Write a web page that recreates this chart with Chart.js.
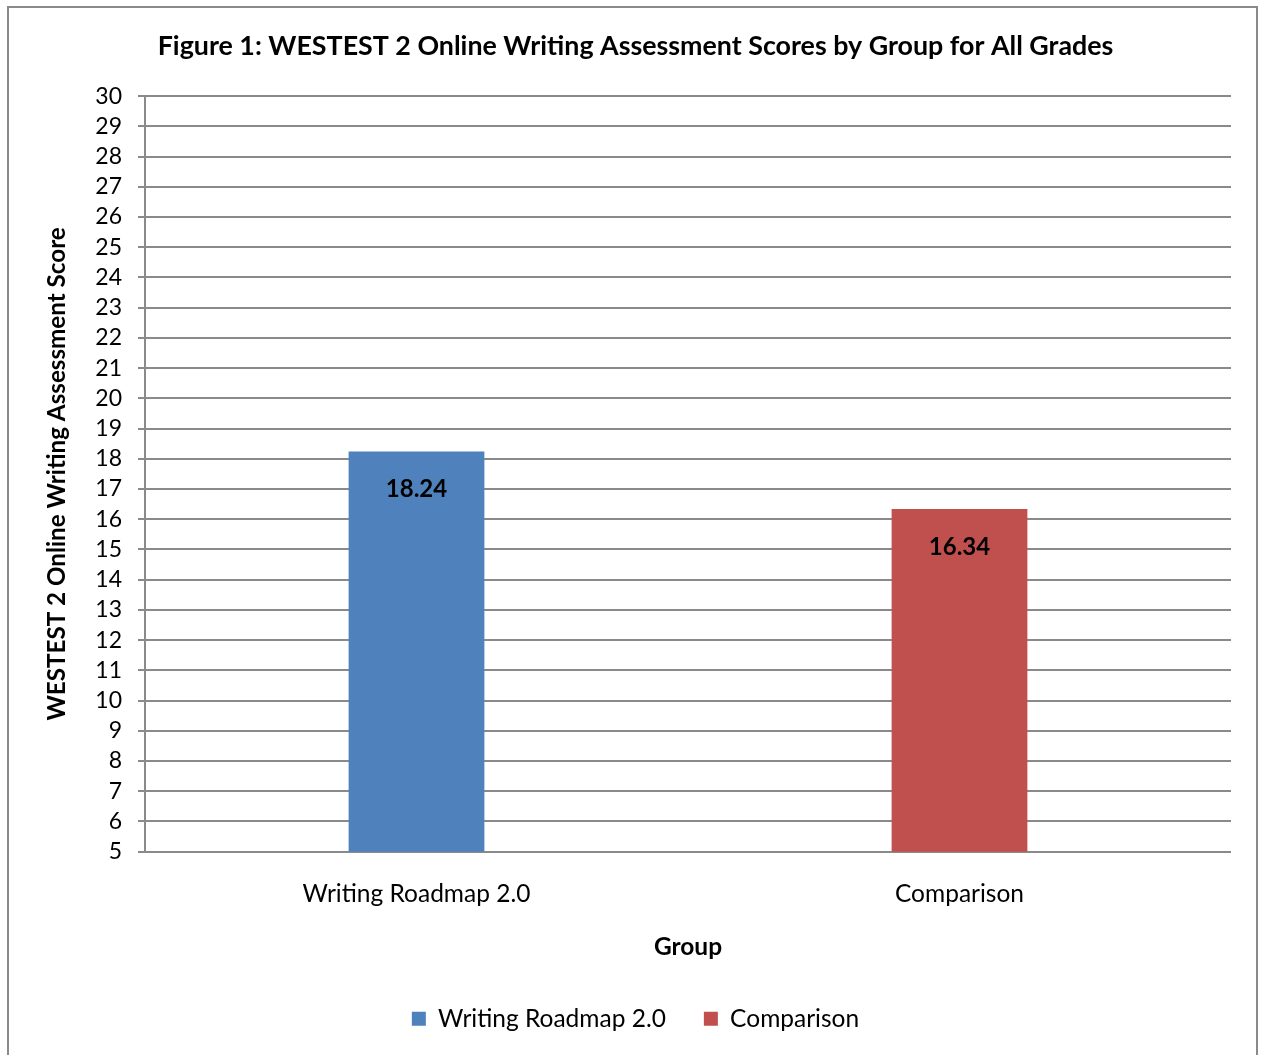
<!DOCTYPE html>
<html>
<head>
<meta charset="utf-8">
<script src="https://cdn.jsdelivr.net/npm/chart.js@4.4.1/dist/chart.umd.min.js"></script>
<style>
  html, body { margin: 0; padding: 0; background: #fff; }
  #wrap { position: absolute; left: 0; top: 0; width: 1262px; height: 1055px; }
  #frame { position: absolute; left: 7px; top: 6px; width: 1251px; height: 1070px; border: 2px solid #8a8a8a; box-sizing: border-box; pointer-events: none; }
</style>
</head>
<body>
<div id="wrap">
  <canvas id="c" width="1262" height="1055"></canvas>
  <div id="frame"></div>
</div>
<script>
const categories = ["Writing Roadmap 2.0", "Comparison"];
const seriesNames = ["Writing Roadmap 2.0", "Comparison"];
const roadmapValues = [18.24, null];
const comparisonValues = [null, 16.34];
const yMin = 5, yMax = 30, yStep = 1;
const titleText = "Figure 1: WESTEST 2 Online Writing Assessment Scores by Group for All Grades";
const yTitle = "WESTEST 2 Online Writing Assessment Score";
const xTitle = "Group";

const FONT = "Lato, 'Open Sans', sans-serif";
const GRID = "#8a8a8a";

const labelPlugin = {
  id: "valueLabels",
  afterDatasetsDraw(chart) {
    const ctx = chart.ctx;
    ctx.save();
    ctx.font = "bold 24px " + FONT;
    ctx.fillStyle = "#000";
    ctx.textAlign = "center";
    ctx.textBaseline = "middle";
    chart.data.datasets.forEach((ds, di) => {
      const meta = chart.getDatasetMeta(di);
      meta.data.forEach((el, i) => {
        const v = ds.data[i];
        if (v === null || v === undefined) return;
        ctx.fillText(v.toFixed(2), el.x, el.y + 38);
      });
    });
    ctx.restore();
  }
};

new Chart(document.getElementById("c"), {
  type: "bar",
  data: {
    labels: categories,
    datasets: [
      { label: seriesNames[0], data: roadmapValues, backgroundColor: "#4F81BD", borderWidth: 0 },
      { label: seriesNames[1], data: comparisonValues, backgroundColor: "#C0504D", borderWidth: 0 }
    ]
  },
  options: {
    responsive: false,
    animation: false,
    devicePixelRatio: 1,
    skipNull: true,
    barPercentage: 0.25,
    categoryPercentage: 1.0,
    layout: { padding: { left: 40, right: 31, top: 0, bottom: 14 } },
    plugins: {
      title: {
        display: true,
        text: titleText,
        color: "#000",
        font: { family: FONT, size: 26.8, weight: "bold" },
        padding: { top: 30, bottom: 34 }
      },
      legend: {
        position: "bottom",
        labels: {
          color: "#000",
          boxWidth: 14,
          boxHeight: 14,
          padding: 38,
          font: { family: FONT, size: 24.5 }
        }
      },
      tooltip: { enabled: false }
    },
    scales: {
      x: {
        grid: { display: false },
        border: { display: false },
        ticks: { color: "#000", font: { family: FONT, size: 24.5 }, padding: 20 },
        title: { display: true, text: xTitle, color: "#000", font: { family: FONT, size: 24.5, weight: "bold" }, padding: { top: 3, bottom: 7 } }
      },
      y: {
        min: yMin,
        max: yMax,
        ticks: { stepSize: yStep, autoSkip: false, color: "#000", font: { family: FONT, size: 23 }, padding: 16 },
        grid: { color: GRID, lineWidth: 2, tickLength: 7 },
        border: { color: GRID, width: 2 },
        title: { display: true, text: yTitle, color: "#000", font: { family: FONT, size: 24.2, weight: "bold" }, padding: { top: 3, bottom: 0 } },
        afterFit(scale) { scale.width = 105; }
      }
    }
  },
  plugins: [labelPlugin]
});
</script>
</body>
</html>
